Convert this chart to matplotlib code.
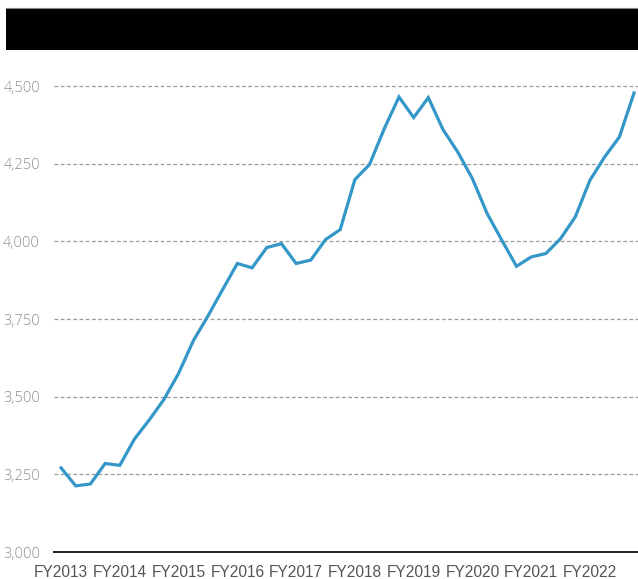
import matplotlib.pyplot as plt
from matplotlib.patches import Rectangle
from matplotlib.ticker import FuncFormatter, FixedLocator

# -----------------------------
# Data (quarterly, FY2013 Q1 .. FY2022 Q4)
# -----------------------------
years = ["FY2013", "FY2014", "FY2015", "FY2016", "FY2017",
         "FY2018", "FY2019", "FY2020", "FY2021", "FY2022"]
values = [
    3271, 3213, 3219, 3285,
    3279, 3364, 3425, 3491,
    3575, 3680, 3760, 3845,
    3929, 3915, 3980, 3993,
    3929, 3940, 4006, 4038,
    4199, 4248, 4363, 4465,
    4399, 4463, 4360, 4288,
    4202, 4090, 4004, 3920,
    3950, 3961, 4009, 4079,
    4197, 4272, 4336, 4478,
]
y_ticks = [3000, 3250, 3500, 3750, 4000, 4250, 4500]

LINE_COLOR = "#3497C8"

# -----------------------------
# Figure
# -----------------------------
fig = plt.figure(figsize=(6.38, 5.79), dpi=100)
ax = fig.add_axes([0.0846, 0.0466, 0.9154, 0.8497])

x = list(range(len(values)))
ax.plot(x, values, color=LINE_COLOR, linewidth=2.3, solid_joinstyle="miter", zorder=3)

ax.set_xlim(-0.48, 39.27)
ax.set_ylim(3000, 4584)

# year labels at first quarter of each FY
ax.xaxis.set_major_locator(FixedLocator([i * 4 for i in range(len(years))]))
ax.set_xticklabels(years, fontfamily="Liberation Sans", fontsize=11.2, color="#555555")
ax.tick_params(axis="x", length=0, pad=9)

ax.yaxis.set_major_locator(FixedLocator(y_ticks))
ax.yaxis.set_major_formatter(FuncFormatter(lambda v, p: f"{int(v):,}"))
for lbl in ax.get_yticklabels():
    lbl.set_fontfamily("Open Sans")
    lbl.set_fontweight("light")
    lbl.set_fontsize(10.5)
    lbl.set_color("#8f8f8f")
ax.tick_params(axis="y", length=0, pad=10)

ax.grid(axis="y", color="#9a9a9a", linestyle=(0, (3, 2)), linewidth=0.9)
ax.set_axisbelow(True)

for side in ["left", "right", "top"]:
    ax.spines[side].set_visible(False)
ax.spines["bottom"].set_color("#222222")
ax.spines["bottom"].set_linewidth(1.4)

# redacted title banner
fig.patches.append(Rectangle((6 / 638, 1 - 50 / 579), 632 / 638, 42 / 579,
                             transform=fig.transFigure, facecolor="black",
                             edgecolor="none"))
fig.add_artist(plt.Line2D([6 / 638, 1], [1 - 7.5 / 579] * 2,
                          transform=fig.transFigure, color="#888888", linewidth=0.8))

fig.savefig("out.png", dpi=100)
